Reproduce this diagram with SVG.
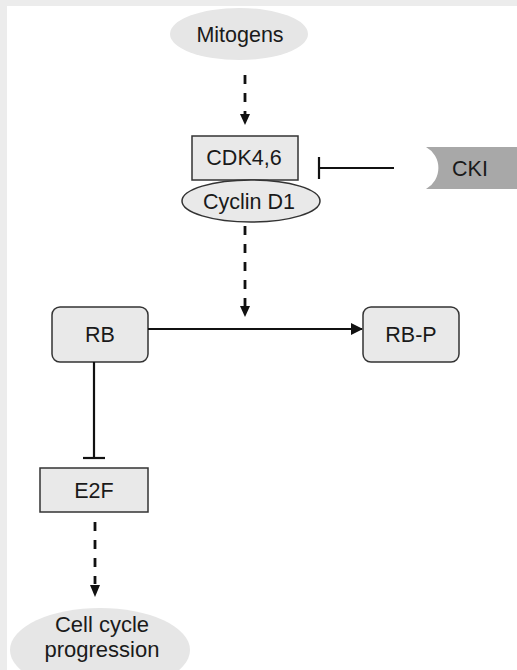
<svg xmlns="http://www.w3.org/2000/svg" width="517" height="670" viewBox="0 0 517 670">
<style>
text{font-family:"Liberation Sans",Arial,sans-serif;font-size:21.5px;fill:#1a1a1a;text-anchor:middle}
.box{fill:#e9e9e9;stroke:#333;stroke-width:1.5}
.ell{fill:#e6e6e6;stroke:none}
.solid{stroke:#111;stroke-width:2.2;fill:none}
.dash{stroke:#111;stroke-width:2.8;fill:none;stroke-dasharray:9 9}
</style>
<defs>
<marker id="ah" markerWidth="12" markerHeight="12" viewBox="0 0 12 12" refX="11" refY="6" orient="auto" markerUnits="userSpaceOnUse">
<path d="M0,0 L12,6 L0,12 Z" fill="#111"/>
</marker>
</defs>
<rect x="0" y="0" width="517" height="670" fill="#ececec"/>
<rect x="7" y="6" width="510" height="664" fill="#fff"/>

<g id="mitogens">
<ellipse class="ell" cx="239" cy="34" rx="69" ry="26"/>
<text x="240" y="42">Mitogens</text>
</g>
<g id="cdk46">
<rect class="box" x="192" y="136" width="106" height="44"/>
<text x="244" y="165">CDK4,6</text>
</g>
<g id="cyclind1">
<ellipse cx="251" cy="201" rx="69" ry="21" fill="#e9e9e9" stroke="#333" stroke-width="1.5"/>
<text x="249" y="209">Cyclin D1</text>
</g>
<g id="cki">
<path d="M426,147 L517,147 L517,189 L426,189 A24,24 0 0 0 426,147 Z" fill="#a8a8a8"/>
<text x="470" y="176">CKI</text>
</g>
<g id="rb">
<rect class="box" x="52" y="307" width="96" height="55" rx="8"/>
<text x="100" y="342">RB</text>
</g>
<g id="rbp">
<rect class="box" x="363" y="307" width="96" height="55" rx="8"/>
<text x="411" y="342">RB-P</text>
</g>
<g id="e2f">
<rect class="box" x="40" y="468" width="108" height="44"/>
<text x="94" y="498">E2F</text>
</g>
<g id="cellcycle">
<ellipse class="ell" cx="100" cy="650" rx="90" ry="42"/>
<text x="102" y="632" style="font-size:22px">Cell cycle</text>
<text x="102" y="657" style="font-size:22px">progression</text>
</g>

<g id="connectors">
<path class="dash" d="M245,75 L245,115"/>
<path d="M240,114 L250,114 L245,125 Z" fill="#111"/>
<path class="dash" d="M245,226 L245,306"/>
<path d="M240,306 L250,306 L245,317 Z" fill="#111"/>
<path class="solid" d="M148,329 L362,329" marker-end="url(#ah)"/>
<path class="solid" d="M394,168 L320,168"/>
<path class="solid" d="M319,157 L319,179"/>
<path class="solid" d="M94,362 L94,458"/>
<path class="solid" d="M83,458 L105,458"/>
<path class="dash" d="M95,522 L95,584"/>
<path d="M90,585 L100,585 L95,597 Z" fill="#111"/>
</g>
</svg>
